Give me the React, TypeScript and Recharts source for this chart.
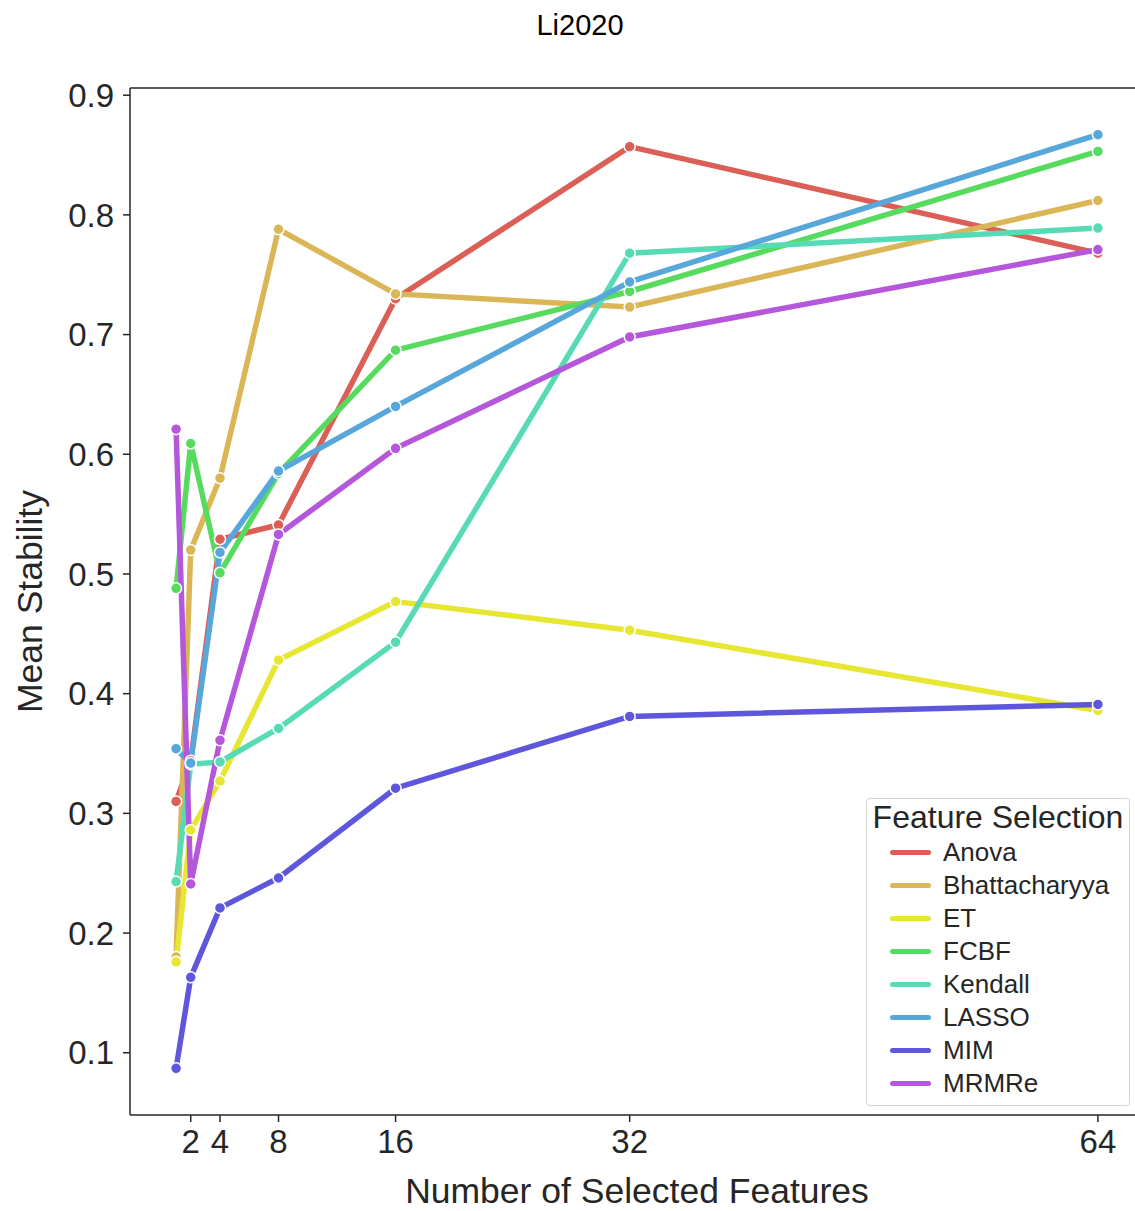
import React from "react";
import {
  LineChart,
  Line,
  XAxis,
  YAxis,
  ReferenceLine,
} from "recharts";

// ── Data ──────────────────────────────────────────────────────────────────────

const featureCounts = [1, 2, 4, 8, 16, 32, 64];
const xTicks = [2, 4, 8, 16, 32, 64];
const yTicks = [0.1, 0.2, 0.3, 0.4, 0.5, 0.6, 0.7, 0.8, 0.9];

const anova = [0.31, 0.344, 0.529, 0.541, 0.73, 0.857, 0.768];
const bhattacharyya = [0.18, 0.52, 0.58, 0.788, 0.734, 0.723, 0.812];
const et = [0.176, 0.286, 0.327, 0.428, 0.477, 0.453, 0.386];
const fcbf = [0.488, 0.609, 0.501, 0.584, 0.687, 0.736, 0.853];
const kendall = [0.243, 0.341, 0.343, 0.371, 0.443, 0.768, 0.789];
const lasso = [0.354, 0.342, 0.518, 0.586, 0.64, 0.744, 0.867];
const mim = [0.087, 0.163, 0.221, 0.246, 0.321, 0.381, 0.391];
const mrmre = [0.621, 0.241, 0.361, 0.533, 0.605, 0.698, 0.771];

const SERIES = [
  { name: "Anova", values: anova, color: "#db5f57" },
  { name: "Bhattacharyya", values: bhattacharyya, color: "#dbb657" },
  { name: "ET", values: et, color: "#e6e633" },
  { name: "FCBF", values: fcbf, color: "#57db5e" },
  { name: "Kendall", values: kendall, color: "#57dbb5" },
  { name: "LASSO", values: lasso, color: "#57a7db" },
  { name: "MIM", values: mim, color: "#5f57db" },
  { name: "MRMRe", values: mrmre, color: "#b557db" },
];

const rows = featureCounts.map((x, i) => {
  const row: Record<string, number> = { x };
  SERIES.forEach((s) => {
    row[s.name] = s.values[i];
  });
  return row;
});

// ── Styling ──────────────────────────────────────────────────────────────────

const FONT = '"Liberation Sans", Arial, Helvetica, sans-serif';
const INK = "#262626";

function LegendBox() {
  return (
    <div
      style={{
        position: "absolute",
        left: 866,
        top: 798,
        width: 264,
        height: 308,
        boxSizing: "border-box",
        border: "1px solid #d4d4d4",
        borderRadius: 4,
        background: "rgba(255,255,255,0.85)",
        fontFamily: FONT,
        color: INK,
      }}
    >
      <div style={{ fontSize: 32, lineHeight: "37px", textAlign: "center", whiteSpace: "nowrap" }}>
        Feature Selection
      </div>
      {SERIES.map((s) => (
        <div key={s.name} style={{ display: "flex", alignItems: "center", height: 33 }}>
          <span
            style={{
              marginLeft: 23,
              width: 41,
              height: 5,
              borderRadius: 3,
              background: s.color,
            }}
          />
          <span style={{ marginLeft: 12, fontSize: 26, lineHeight: "33px" }}>{s.name}</span>
        </div>
      ))}
    </div>
  );
}

export default function App() {
  return (
    <div
      style={{
        position: "absolute",
        left: 0,
        top: 0,
        width: 1135,
        height: 1211,
        overflow: "hidden",
        background: "#fff",
      }}
    >
      <LineChart
        width={1150}
        height={1211}
        data={rows}
        margin={{ top: 88, right: 6, left: 0, bottom: 0 }}
        style={{ fontFamily: FONT }}
      >
        <XAxis
          dataKey="x"
          type="number"
          domain={[-2.15, 67.15]}
          ticks={xTicks}
          allowDataOverflow
          height={96}
          stroke={INK}
          strokeWidth={1.5}
          tickSize={7}
          tickMargin={8}
          tick={{ fontSize: 33, fill: INK }}
          label={{
            content: ({ viewBox }: any) => (
              <text
                x={viewBox.x + viewBox.width / 2}
                y={1203}
                textAnchor="middle"
                fontSize={35.5}
                fill={INK}
              >
                Number of Selected Features
              </text>
            ),
          }}
        />
        <YAxis
          type="number"
          domain={[0.048, 0.906]}
          ticks={yTicks}
          allowDataOverflow
          width={130}
          stroke={INK}
          strokeWidth={1.5}
          tickSize={7}
          tickMargin={9}
          tick={{ fontSize: 33, fill: INK }}
          tickFormatter={(v: number) => v.toFixed(1)}
          label={{
            content: ({ viewBox }: any) => {
              const cy = viewBox.y + viewBox.height / 2;
              return (
                <text
                  x={42}
                  y={cy}
                  textAnchor="middle"
                  fontSize={35.5}
                  fill={INK}
                  transform={`rotate(-90, 42, ${cy})`}
                >
                  Mean Stability
                </text>
              );
            },
          }}
        />
        <ReferenceLine
          y={0.906}
          stroke={INK}
          strokeWidth={1.5}
          label={{
            content: () => (
              <text x={580} y={35} textAnchor="middle" fontSize={29} fill="#000">
                Li2020
              </text>
            ),
          }}
        />
        {SERIES.map((s) => (
          <Line
            key={s.name}
            type="linear"
            dataKey={s.name}
            stroke={s.color}
            strokeWidth={5.5}
            dot={{ r: 5.5, fill: s.color, stroke: "#fff", strokeWidth: 1.5 }}
            activeDot={false}
            isAnimationActive={false}
          />
        ))}
      </LineChart>
      <LegendBox />
    </div>
  );
}
